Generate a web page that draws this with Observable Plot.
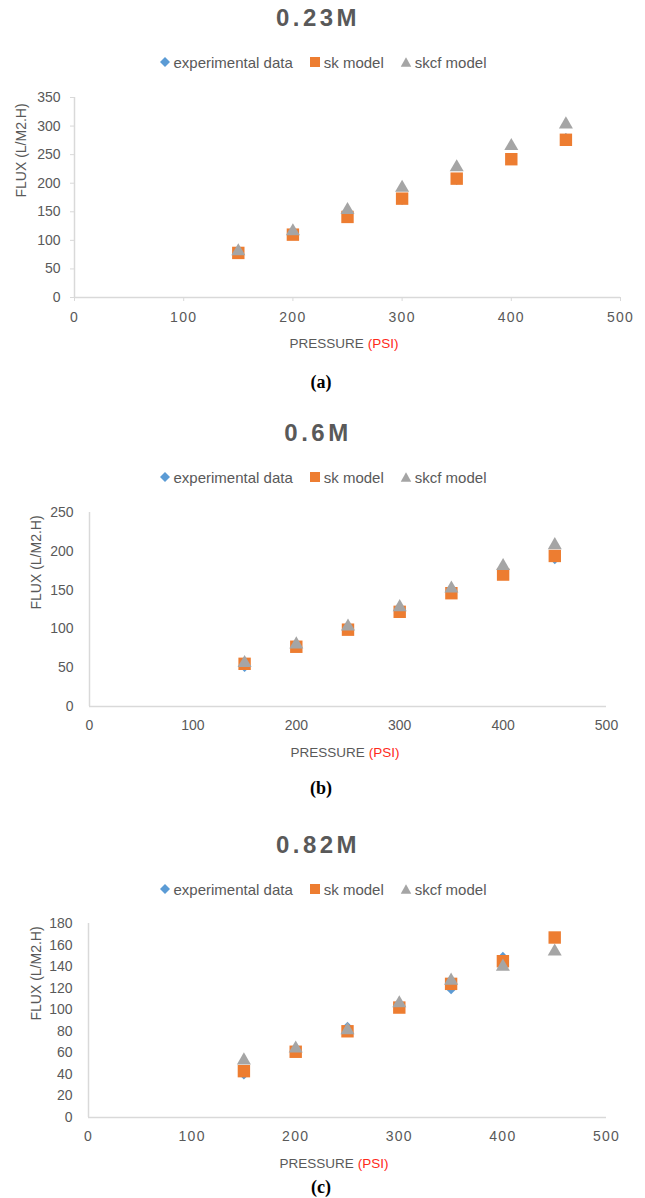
<!DOCTYPE html>
<html>
<head>
<meta charset="utf-8">
<script src="https://cdn.jsdelivr.net/npm/d3@7"></script>
<script src="https://cdn.jsdelivr.net/npm/@observablehq/plot@0.6"></script>
<style>
  body { margin: 0; background: #fff; }
  #root { position: relative; width: 645px; height: 1198px; overflow: hidden; font-family: "Liberation Sans", Arial, sans-serif; }
  .abs { position: absolute; white-space: nowrap; transform: translate(-50%, -50%); }
  .title { font-weight: bold; font-size: 24px; letter-spacing: 3.5px; color: #595959; }
  .legend { display: flex; align-items: center; font-size: 15px; color: #595959; }
  .legend .item { display: flex; align-items: center; }
  .legend .item + .item { margin-left: 17px; }
  .legend svg { margin-right: 3px; }
  .xtitle { font-size: 13.5px; color: #595959; }
  .xtitle .unit { color: #ff2a1a; }
  .caption { font-family: "Liberation Serif", "Times New Roman", serif; font-weight: bold; font-size: 18px; color: #000; }
  .plotwrap { position: absolute; left: 0; }
  .spaced g[aria-label="x-axis tick label"] text { letter-spacing: 1.3px; }
</style>
</head>
<body>
<div id="root"></div>
<script>
// ---- data ----
const pressure = [150, 200, 250, 300, 350, 400, 450];
const xTicks = [0, 100, 200, 300, 400, 500];
const seriesNames = ["experimental data", "sk model", "skcf model"];
const seriesColors = ["#5B9BD5", "#ED7D31", "#A5A5A5"];

// (a) 0.23M
const expA  = [78, 110, 143, 171, 206, 243, 279];
const skA   = [78, 110, 141, 173, 208, 242, 276];
const skcfA = [81, 116, 153, 192, 228, 265, 303];
const yTicksA = [0, 50, 100, 150, 200, 250, 300, 350];

// (b) 0.6M
const expB  = [51, 77, 100, 122, 146, 171, 190];
const skB   = [55, 77, 99, 122, 146, 170, 194];
const skcfB = [56, 80, 103, 128, 152, 181, 208];
const yTicksB = [0, 50, 100, 150, 200, 250];

// (c) 0.82M
const expC  = [40, 62, 84, 102, 119, 149, 167];
const skC   = [43, 61, 80, 102, 124, 145, 167];
const skcfC = [53, 64, 81, 106, 127, 140, 154];
const yTicksC = [0, 20, 40, 60, 80, 100, 120, 140, 160, 180];

const titles = ["0.23M", "0.6M", "0.82M"];
const captions = ["(a)", "(b)", "(c)"];
const xLabel = "PRESSURE ";
const xUnit = "(PSI)";
const yLabel = "FLUX (L/M2.H)";

// ---- layout (positions only) ----
const panels = [
  { title: titles[0], caption: captions[0], series: [expA, skA, skcfA], yTicks: yTicksA,
    titleY: 18, legendY: 62, plotTop: 97, plotBottom: 297, left: 74, right: 620,
    xTitleX: 344, xTitleY: 343, captionY: 382, yLabelX: 21, yTickSize: 4, xTickSize: 4, spaced: true },
  { title: titles[1], caption: captions[1], series: [expB, skB, skcfB], yTicks: yTicksB,
    titleY: 433, legendY: 477, plotTop: 512, plotBottom: 706, left: 89, right: 606,
    xTitleX: 345, xTitleY: 752, captionY: 788, yLabelX: 36, yTickSize: 0, xTickSize: 0, spaced: false },
  { title: titles[2], caption: captions[2], series: [expC, skC, skcfC], yTicks: yTicksC,
    titleY: 845, legendY: 889, plotTop: 923, plotBottom: 1117, left: 88, right: 606,
    xTitleX: 334, xTitleY: 1163, captionY: 1187, yLabelX: 36, yTickSize: 0, xTickSize: 0, spaced: true }
];

const root = document.getElementById("root");
const W = 645;
const symbols = ["diamond2", "square", "triangle"];
const radii = [4.6, 7.0, 5.2];

function legendMarker(i) {
  const ns = "http://www.w3.org/2000/svg";
  const s = document.createElementNS(ns, "svg");
  s.setAttribute("width", 11); s.setAttribute("height", 11);
  let el;
  if (i === 0) { el = document.createElementNS(ns, "polygon"); el.setAttribute("points", "5.5,0.5 10.5,5.5 5.5,10.5 0.5,5.5"); }
  else if (i === 1) { el = document.createElementNS(ns, "rect"); el.setAttribute("x", 0.5); el.setAttribute("y", 0.5); el.setAttribute("width", 10); el.setAttribute("height", 10); }
  else { el = document.createElementNS(ns, "polygon"); el.setAttribute("points", "5.5,0.8 10.8,10.2 0.2,10.2"); }
  el.setAttribute("fill", seriesColors[i]);
  s.appendChild(el);
  return s;
}

function div(cls, x, y) {
  const d = document.createElement("div");
  d.className = "abs " + cls;
  d.style.left = x + "px"; d.style.top = y + "px";
  root.appendChild(d);
  return d;
}

panels.forEach(p => {
  div("title", 318, p.titleY).textContent = p.title;
  const lg = div("legend", 323, p.legendY);
  seriesNames.forEach((n, i) => {
    const it = document.createElement("div"); it.className = "item";
    it.appendChild(legendMarker(i));
    const t = document.createElement("span"); t.textContent = n; it.appendChild(t);
    lg.appendChild(it);
  });

  const rows = [];
  p.series.forEach((vals, si) => vals.forEach((v, k) => rows.push({ x: pressure[k], y: v, s: si })));

  const marginTop = 12, marginBottom = 36;
  const svgTop = p.plotTop - marginTop;
  const height = (p.plotBottom - p.plotTop) + marginTop + marginBottom;
  const yMax = p.yTicks[p.yTicks.length - 1];

  const marks = [
    Plot.ruleY([0], { stroke: "#d9d9d9", strokeWidth: 1.5 }),
    Plot.ruleX([0], { stroke: "#d9d9d9", strokeWidth: 1.5 }),
    Plot.axisX(xTicks, { tickSize: p.xTickSize, tickPadding: p.xTickSize ? 11 : 14, stroke: "#d9d9d9", fill: "#595959", label: null, fontSize: 14 }),
    Plot.axisY(p.yTicks, { tickSize: p.yTickSize, tickPadding: p.yTickSize ? 10 : 16, stroke: "#d9d9d9", fill: "#595959", label: null, fontSize: 14 }),
    Plot.text([yLabel], { text: d => d, frameAnchor: "left", dx: p.yLabelX - p.left, rotate: -90, fill: "#595959", fontSize: 14 })
  ];
  [0, 1, 2].forEach(si => {
    marks.push(Plot.dot(rows.filter(r => r.s === si), {
      x: "x", y: "y", symbol: () => symbols[si], r: radii[si], fill: seriesColors[si], stroke: null
    }));
  });

  const chart = Plot.plot({
    width: W, height,
    marginTop, marginBottom, marginLeft: p.left, marginRight: W - p.right,
    style: { fontFamily: "'Liberation Sans', Arial, sans-serif", fontSize: "14px", background: "transparent", overflow: "visible" },
    x: { domain: [0, 500], label: null },
    y: { domain: [0, yMax], label: null },
    symbol: { type: "identity" },
    marks
  });
  const wrap = document.createElement("div");
  wrap.className = "plotwrap" + (p.spaced ? " spaced" : "");
  wrap.style.top = svgTop + "px";
  wrap.appendChild(chart);
  root.appendChild(wrap);

  const xt = div("xtitle", p.xTitleX, p.xTitleY);
  const a = document.createElement("span"); a.textContent = xLabel;
  const b = document.createElement("span"); b.className = "unit"; b.textContent = xUnit;
  xt.appendChild(a); xt.appendChild(b);

  div("caption", 321, p.captionY).textContent = p.caption;
});
</script>
</body>
</html>
